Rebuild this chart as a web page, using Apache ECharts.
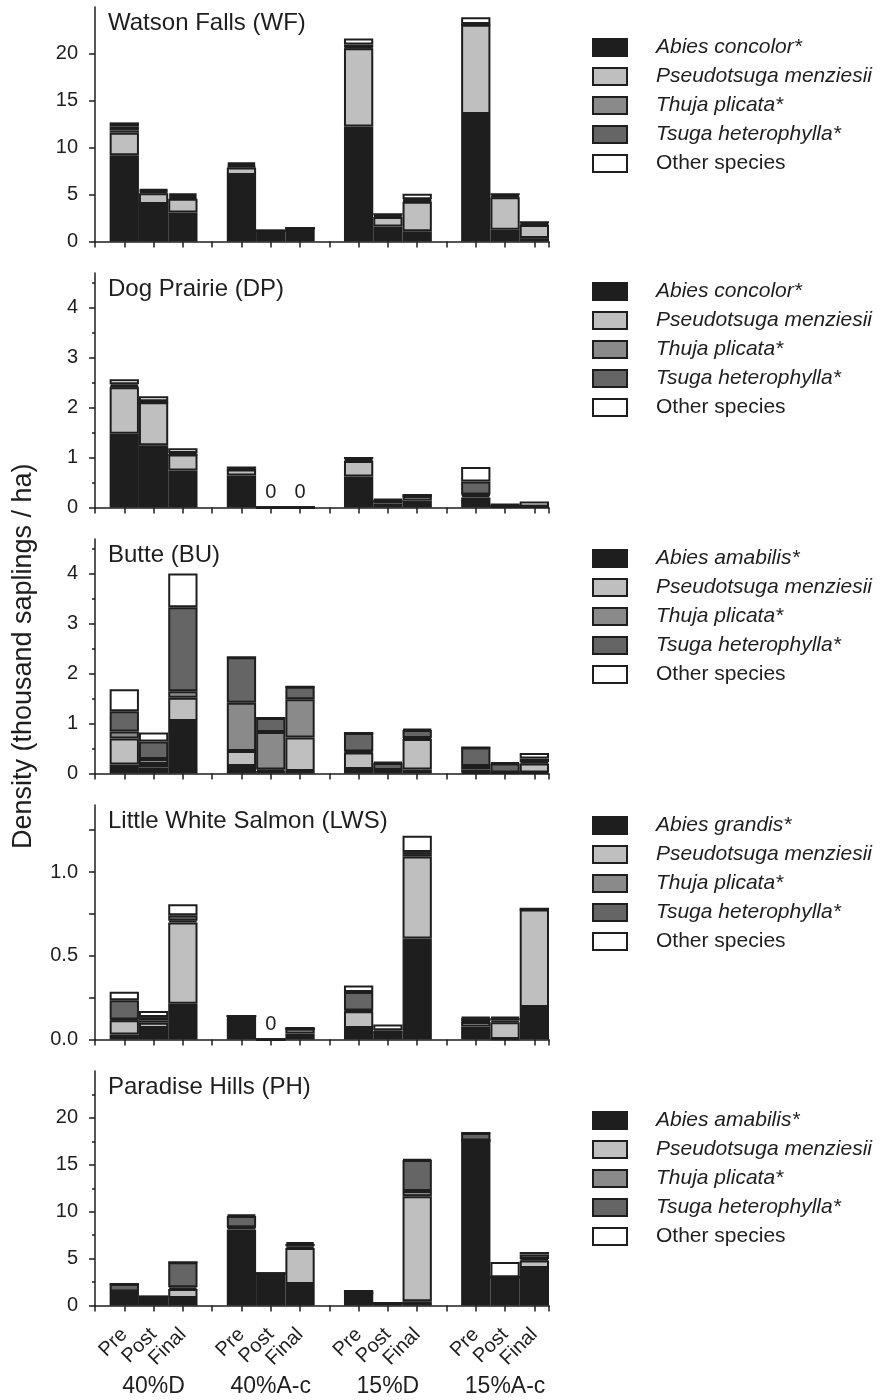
<!DOCTYPE html>
<html>
<head>
<meta charset="utf-8">
<script src="https://cdn.jsdelivr.net/npm/echarts@6/dist/echarts.min.js"></script>
<style>
  html, body { margin: 0; background: #fff; }
  #chart { width: 880px; height: 1400px; }
</style>
</head>
<body>
<div id="chart"></div>
<script>
// treatments and sampling periods (x axis)
var treatments = ['40%D', '40%A-c', '15%D', '15%A-c'];
var periods = ['Pre', 'Post', 'Final'];

var sites = ['Watson Falls (WF)', 'Dog Prairie (DP)', 'Butte (BU)', 'Little White Salmon (LWS)', 'Paradise Hills (PH)'];
var abiesNames = ['Abies concolor*', 'Abies concolor*', 'Abies amabilis*', 'Abies grandis*', 'Abies amabilis*'];
var otherNames = ['Pseudotsuga menziesii', 'Thuja plicata*', 'Tsuga heterophylla*', 'Other species'];

// values: 40%D Pre/Post/Final, 40%A-c Pre/Post/Final, 15%D ..., 15%A-c ...
var wfAbies  = [9.2, 4.0, 3.1, 7.1, 1.15, 1.4, 12.25, 1.6, 1.1, 13.6, 1.25, 0.36];
var wfPseudo = [2.4, 1.15, 1.45, 0.8, 0, 0, 8.35, 1.0, 3.15, 9.5, 3.48, 1.39];
var wfThuja  = [0.25, 0.15, 0.2, 0.15, 0, 0, 0.1, 0.15, 0.1, 0, 0.1, 0.1];
var wfTsuga  = [0.45, 0.15, 0.2, 0.2, 0, 0, 0.3, 0.15, 0.15, 0.1, 0.2, 0.2];
var wfOther  = [0.4, 0.15, 0.2, 0.2, 0, 0, 0.65, 0, 0.6, 0.7, 0, 0];

var dpAbies  = [1.48, 1.25, 0.74, 0.64, 0, 0, 0.62, 0.08, 0.14, 0.2, 0.02, 0.02];
var dpPseudo = [0.93, 0.86, 0.32, 0.12, 0, 0, 0.31, 0.05, 0.09, 0.04, 0, 0];
var dpThuja  = [0.02, 0, 0, 0, 0, 0, 0.02, 0, 0, 0.02, 0, 0];
var dpTsuga  = [0.04, 0.02, 0.03, 0.04, 0, 0, 0.04, 0.02, 0.02, 0.26, 0, 0];
var dpOther  = [0.1, 0.1, 0.1, 0, 0, 0, 0, 0.02, 0, 0.29, 0.06, 0.1];

var buAbies  = [0.18, 0.12, 1.05, 0.15, 0.05, 0.05, 0.09, 0.05, 0.08, 0.02, 0.02, 0.02];
var buPseudo = [0.52, 0.07, 0.47, 0.3, 0.03, 0.67, 0.33, 0.01, 0.61, 0.06, 0, 0.18];
var buThuja  = [0.14, 0.1, 0.13, 0.97, 0.75, 0.77, 0.02, 0.01, 0.02, 0.07, 0, 0.03];
var buTsuga  = [0.41, 0.35, 1.68, 0.91, 0.28, 0.25, 0.37, 0.14, 0.16, 0.37, 0.18, 0.07];
var buOther  = [0.44, 0.18, 0.68, 0, 0, 0, 0, 0.02, 0.02, 0, 0.02, 0.11];

var lwsAbies  = [0.03, 0.068, 0.214, 0.14, 0, 0.036, 0.068, 0.04, 0.603, 0.078, 0.003, 0.194];
var lwsPseudo = [0.085, 0.032, 0.485, 0, 0, 0.028, 0.1, 0.005, 0.489, 0.026, 0.1, 0.582];
var lwsThuja  = [0.005, 0.012, 0.01, 0, 0, 0, 0.005, 0, 0.015, 0.004, 0.01, 0];
var lwsTsuga  = [0.115, 0.022, 0.033, 0, 0, 0.004, 0.11, 0.01, 0.012, 0.02, 0.015, 0.004];
var lwsOther  = [0.05, 0.036, 0.066, 0, 0, 0, 0.04, 0.035, 0.097, 0.006, 0.006, 0];

var phAbies  = [1.4, 0.9, 0.8, 8.1, 3.4, 2.3, 1.35, 0.25, 0.45, 17.6, 3.0, 4.0];
var phPseudo = [0.05, 0, 0.95, 0.2, 0, 3.82, 0, 0, 11.2, 0, 0, 0.8];
var phThuja  = [0.05, 0, 0.2, 0.05, 0, 0.2, 0, 0, 0.55, 0, 0, 0.15];
var phTsuga  = [0.8, 0.05, 2.65, 1.2, 0, 0.25, 0.2, 0, 3.3, 0.8, 0, 0.5];
var phOther  = [0, 0, 0, 0.15, 0, 0.2, 0, 0, 0.1, 0, 1.65, 0.25];

// y axis tick labels
var wfTicks = [0, 5, 10, 15, 20];
var dpTicks = [0, 1, 2, 3, 4];
var buTicks = [0, 1, 2, 3, 4];
var lwsTicks = [0, 0.5, 1.0];
var phTicks = [0, 5, 10, 15, 20];

var siteData = [
  [wfAbies, wfPseudo, wfThuja, wfTsuga, wfOther],
  [dpAbies, dpPseudo, dpThuja, dpTsuga, dpOther],
  [buAbies, buPseudo, buThuja, buTsuga, buOther],
  [lwsAbies, lwsPseudo, lwsThuja, lwsTsuga, lwsOther],
  [phAbies, phPseudo, phThuja, phTsuga, phOther]
];

var FONT = '"Liberation Sans", Arial, Helvetica, sans-serif';
var INK = '#1e1e1e';
var colors = ['#1e1e1e', '#bfbfbf', '#8a8a8a', '#656565', '#ffffff'];

var yCfg = [
  { max: 25, interval: 5, labels: wfTicks, ticks: wfTicks, minor: false, digits: 0 },
  { max: 4.7, interval: 1, labels: dpTicks, ticks: dpTicks, minor: true, digits: 0 },
  { max: 4.7, interval: 1, labels: buTicks, ticks: buTicks, minor: true, digits: 0 },
  { max: 1.4, interval: 0.25, labels: lwsTicks, ticks: [0, 0.25, 0.5, 0.75, 1, 1.25], minor: false, digits: 1 },
  { max: 25, interval: 5, labels: phTicks, ticks: phTicks, minor: true, digits: 0 }
];

var gridTops = [7, 273, 539, 805, 1071];
var legendTops = [37, 281, 548, 815, 1110];
var gridH = 234.5;

// half-unit category slots: slot 0 = axis origin, bars sit on even slots
var nSlots = 32;
var slots = [];
for (var s = 0; s < nSlots; s++) slots.push(String(s));
function slotOf(k) {
  return 2 * (Math.floor(k / 3) * 4 + (k % 3) + 1);
}
var periodAt = {}, groupAt = {};
for (var k = 0; k < 12; k++) {
  periodAt[slotOf(k)] = periods[k % 3];
  if (k % 3 === 1) groupAt[slotOf(k)] = treatments[Math.floor(k / 3)];
}
function toSlots(values, zeroLabel) {
  var arr = [];
  for (var i = 0; i < nSlots; i++) arr.push('-');
  values.forEach(function (v, k) {
    if (zeroLabel && zeroLabel[k]) {
      // bar with no saplings at all: print "0" above the axis
      arr[slotOf(k)] = {
        value: v,
        label: { show: true, position: 'top', distance: 4, formatter: '0', fontSize: 20, color: INK, fontFamily: FONT }
      };
    } else {
      arr[slotOf(k)] = v;
    }
  });
  return arr;
}

var grids = [], xAxes = [], yAxes = [], series = [], titles = [], legends = [];

sites.forEach(function (site, i) {
  grids.push({ left: 95, width: 454, top: gridTops[i], height: gridH });

  xAxes.push({
    gridIndex: i, type: 'category', data: slots, boundaryGap: false, position: 'bottom',
    axisLine: { lineStyle: { color: INK, width: 1.5 } },
    axisTick: { interval: 1, length: 6, lineStyle: { color: INK, width: 1.5 } },
    axisLabel: {
      show: i === 4, interval: 0, rotate: 45, margin: 26,
      fontSize: 20, color: INK, fontFamily: FONT,
      formatter: function (v, idx) { return periodAt[idx] || ''; }
    },
    splitLine: { show: false }
  });

  var c = yCfg[i];
  yAxes.push({
    gridIndex: i, type: 'value', position: 'left', min: 0, max: c.max, interval: c.interval,
    axisLine: { show: true, lineStyle: { color: INK, width: 1.5 } },
    axisTick: { show: true, length: 6, customValues: c.ticks, lineStyle: { color: INK, width: 1.5 } },
    minorTick: { show: c.minor, splitNumber: 2, length: 3, lineStyle: { color: INK, width: 1.5 } },
    axisLabel: {
      customValues: c.labels, margin: 17, fontSize: 20, color: INK, fontFamily: FONT,
      formatter: (function (d) { return function (v) { return v.toFixed(d); }; })(c.digits)
    },
    splitLine: { show: false },
    name: i === 2 ? 'Density (thousand saplings / ha)' : '',
    nameLocation: 'middle', nameGap: 58,
    nameTextStyle: { fontSize: 27, color: INK, fontFamily: FONT }
  });

  titles.push({
    text: site, left: 108, top: gridTops[i] + 4, padding: 0,
    textStyle: { fontSize: 24, fontWeight: 'normal', color: INK, fontFamily: FONT }
  });

  var names = [abiesNames[i]].concat(otherNames);
  legends.push({
    data: names, orient: 'vertical', left: 592, top: legendTops[i], padding: 0,
    itemWidth: 34, itemHeight: 17, itemGap: 8, selectedMode: false, icon: 'rect',
    formatter: function (name) { return name === 'Other species' ? name : '{i|' + name + '}'; },
    textStyle: {
      fontSize: 21, color: INK, fontFamily: FONT, padding: [0, 0, 0, 24],
      rich: { i: { fontStyle: 'italic', fontSize: 21, color: INK, fontFamily: FONT } }
    }
  });

  var data = siteData[i];
  var empty = [];
  for (var b = 0; b < 12; b++) {
    var tot = 0;
    data.forEach(function (vals) { tot += vals[b]; });
    empty.push(tot === 0);
  }
  data.forEach(function (vals, j) {
    series.push({
      name: names[j], type: 'bar', stack: 'site' + i,
      xAxisIndex: i, yAxisIndex: i, barWidth: '200%', clip: false,
      itemStyle: { color: colors[j], borderColor: INK, borderWidth: 2 },
      emphasis: { disabled: true },
      data: toSlots(vals, j === 4 ? empty : null)
    });
  });
});

// treatment names under the bottom panel
xAxes.push({
  gridIndex: 4, type: 'category', data: slots, boundaryGap: false, position: 'bottom',
  axisLine: { show: false }, axisTick: { show: false }, splitLine: { show: false },
  axisLabel: {
    interval: 0, margin: 70, fontSize: 23, color: INK, fontFamily: FONT,
    formatter: function (v, idx) { return groupAt[idx] || ''; }
  }
});

var chart = echarts.init(document.getElementById('chart'));
chart.setOption({
  animation: false,
  backgroundColor: '#ffffff',
  textStyle: { fontFamily: FONT },
  title: titles,
  legend: legends,
  grid: grids,
  xAxis: xAxes,
  yAxis: yAxes,
  series: series
});
</script>
</body>
</html>
